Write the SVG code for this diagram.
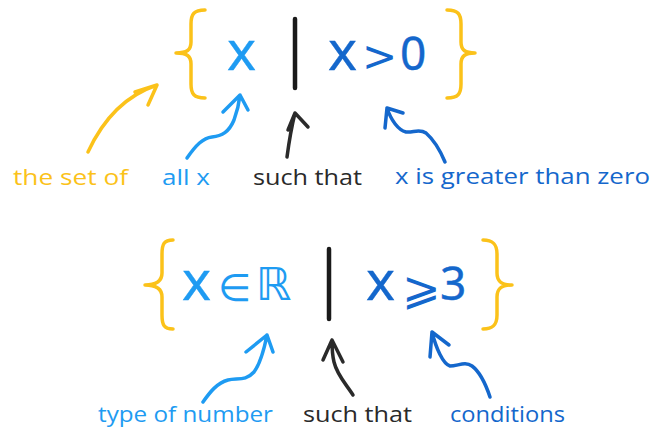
<svg xmlns="http://www.w3.org/2000/svg" width="652" height="433" viewBox="0 0 652 433">
<style>
.brace{fill:none;stroke:#FBC21A;stroke-width:3.5;stroke-linecap:round;stroke-linejoin:round}
.bar{stroke:#1a1a1a;stroke-width:4.5;stroke-linecap:round}
.arr{fill:none;stroke-width:3.5;stroke-linecap:round;stroke-linejoin:round}
.yel{stroke:#FBC21A}.lb{stroke:#1E9BF2}.db{stroke:#1467CC}.blk{stroke:#2a2a2a}
.m{font-family:"Noto Sans","DejaVu Sans",sans-serif;stroke-width:0.4;stroke-linejoin:round}
.d{font-family:"DejaVu Sans",sans-serif}
.lab{font-family:"Open Sans","Noto Sans",sans-serif;font-size:22px}
.ty{fill:#FBC21A}.tlb{fill:#1E9BF2}.tdb{fill:#1467CC}.tk{fill:#2a2a2a}
.m.tlb{stroke:#1E9BF2}.m.tdb{stroke:#1467CC}
</style>
<rect width="652" height="433" fill="#ffffff"/>
<g id="set1">
<path class="brace" d="M205,10 C194,10 191,14 191,24 L191,42 C191,50 187,53 176,53 C187,53 191,56 191,64 L191,84 C191,94 194,98 205,98"/>
<path class="brace" d="M447,10 C458,10 461,14 461,24 L461,42 C461,50 465,53 475,53 C465,53 461,56 461,64 L461,84 C461,94 458,98 447,98"/>
<text class="m tlb" x="227" y="70" font-size="55">x</text>
<line class="bar" x1="295" y1="19" x2="295" y2="88"/>
<text class="m tdb" x="328" y="70" font-size="55">x</text>
<text class="d tdb" x="362" y="71" font-size="42">&gt;</text>
<text class="m tdb" x="400" y="70" font-size="46">0</text>
</g>
<g id="set2">
<path class="brace" d="M173,240 C164,240 162,244 162,254 L162,273 C162,281 157,285 145,285 C157,285 162,289 162,297 L162,315 C162,325 164,329 173,329"/>
<path class="brace" d="M483,240 C493,240 497,244 497,254 L497,273 C497,281 501,285 512,285 C501,285 497,289 497,297 L497,315 C497,325 493,329 483,329"/>
<text class="m tlb" x="182" y="300" font-size="55">x</text>
<text class="d tlb" x="218" y="301" font-size="38">∈</text>
<text class="d tlb" x="256" y="300" font-size="45">ℝ</text>
<line class="bar" x1="329" y1="249" x2="329" y2="319"/>
<text class="m tdb" x="366" y="300" font-size="55">x</text>
<text class="d tdb" x="402" y="304" font-size="46">⩾</text>
<text class="m tdb" x="440" y="300" font-size="46">3</text>
</g>
<g id="connectors">
<path class="arr yel" d="M88,152 Q112,100 157,85 M135,92 L157,85 L148,105"/>
<path class="arr lb" d="M187,158 C196,145 203,138 212,137 C222,136 229,132 234,120 C237,112 239,104 240,95 M223,112 L240,95 L248,110"/>
<path class="arr blk" d="M287,157 C289,142 292,125 295,113 M288,130 L295,113 L308,127"/>
<path class="arr db" d="M445,162 C440,150 434,140 426,133 C419,128 413,133 406,132 C398,130 391,120 387,108 M385,128 L387,108 L403,113"/>
<path class="arr lb" d="M203,402 C210,392 217,383 228,380 C238,378 246,381 254,372 C260,364 264,350 267,335 M246,352 L267,335 L273,352"/>
<path class="arr blk" d="M353,395 C346,384 337,375 334,362 C332,354 332,346 332,340 M323,360 L332,340 L343,362"/>
<path class="arr db" d="M490,397 C486,385 480,372 472,366 C465,361 458,366 450,366 C443,364 436,348 432,332 M430,357 L432,332 L449,345"/>
</g>
<g id="label-set-of"><text class="lab ty" x="13" y="185" textLength="115" lengthAdjust="spacingAndGlyphs">the set of</text></g>
<g id="label-all-x"><text class="lab tlb" x="162" y="185" textLength="48" lengthAdjust="spacingAndGlyphs">all x</text></g>
<g id="label-such-that-1"><text class="lab tk" x="253" y="185" textLength="109" lengthAdjust="spacingAndGlyphs">such that</text></g>
<g id="label-greater"><text class="lab tdb" x="395" y="184" textLength="255" lengthAdjust="spacingAndGlyphs">x is greater than zero</text></g>
<g id="label-type"><text class="lab tlb" x="98" y="422" textLength="175" lengthAdjust="spacingAndGlyphs">type of number</text></g>
<g id="label-such-that-2"><text class="lab tk" x="303" y="422" textLength="109" lengthAdjust="spacingAndGlyphs">such that</text></g>
<g id="label-conditions"><text class="lab tdb" x="450" y="422" textLength="115" lengthAdjust="spacingAndGlyphs">conditions</text></g>
</svg>
